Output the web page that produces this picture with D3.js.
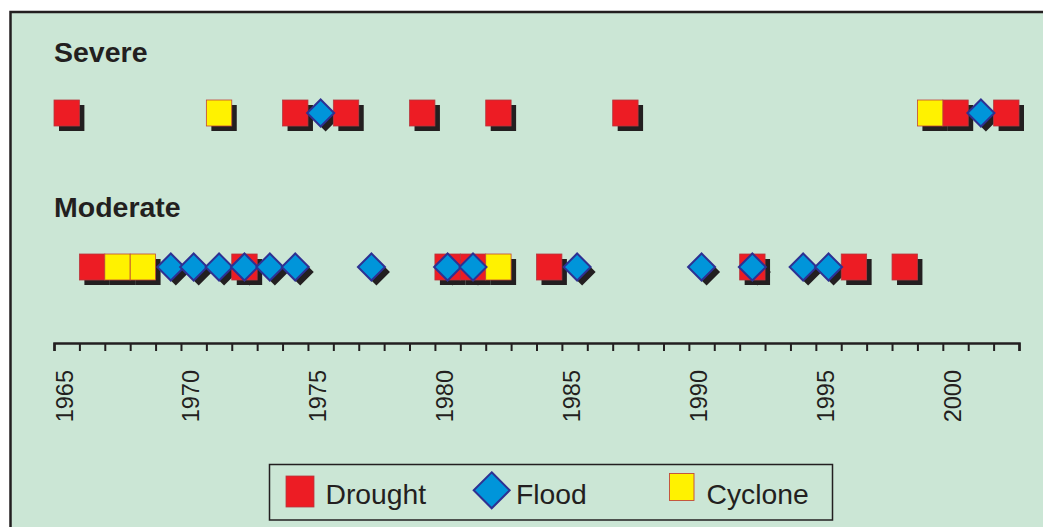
<!DOCTYPE html>
<html>
<head>
<meta charset="utf-8">
<script src="https://cdn.jsdelivr.net/npm/d3@7"></script>
<style>
  html, body { margin: 0; padding: 0; background: #ffffff; }
  svg { display: block; font-family: "Liberation Sans", Arial, sans-serif; }
</style>
</head>
<body>
<svg id="chart" width="1043" height="527"></svg>
<script>
// ---- data ----
const rows = ["Severe", "Moderate"];
const severeDrought = [1965, 1974, 1976, 1979, 1982, 1987, 2000, 2002];
const severeFlood = [1975, 2001];
const severeCyclone = [1971, 1999];
const moderateDrought = [1966, 1972, 1980, 1981, 1984, 1992, 1996, 1998];
const moderateFlood = [1969.1, 1970, 1971, 1972, 1973, 1974, 1977, 1980, 1981, 1985.1, 1990, 1992, 1994, 1995];
const moderateCyclone = [1967, 1968, 1982];
const yearDomain = [1965, 2003];
const tickYears = d3.range(1965, 2004);
const legendItems = ["Drought", "Flood", "Cyclone"];

// ---- styles ----
const BG = "#cbe6d5";
const INK = "#231f20";
const RED = "#ed1c24";
const BLUE = "#0095da";
const BLUE_STROKE = "#2e3192";
const YELLOW = "#fff200";

const svg = d3.select("#chart");

// frame
svg.append("rect")
  .attr("x", 10.5).attr("y", 12).attr("width", 1060).attr("height", 540)
  .attr("fill", BG).attr("stroke", INK).attr("stroke-width", 2.5);

const x = d3.scaleLinear().domain(yearDomain).range([54, 1019]);
const band = x(1966) - x(1965);
const y = d3.scalePoint().domain(rows).range([113, 267]);
const labelY = d3.scalePoint().domain(rows).range([62, 217]);

// row labels
svg.selectAll("text.row").data(rows).join("text")
  .attr("class", "row")
  .attr("x", 54).attr("y", d => labelY(d))
  .attr("font-size", 28.5).attr("font-weight", "bold").attr("fill", INK)
  .text(d => d);

const sqH = 26;
const diaR = 13.5;
const sh = { dx: 5, dy: 5 };

const squares = [];
severeDrought.forEach(v => squares.push({ row: "Severe", year: v, fill: RED, stroke: "#b5393f" }));
severeCyclone.forEach(v => squares.push({ row: "Severe", year: v, fill: YELLOW, stroke: "#c1473a" }));
moderateDrought.forEach(v => squares.push({ row: "Moderate", year: v, fill: RED, stroke: "#b5393f" }));
moderateCyclone.forEach(v => squares.push({ row: "Moderate", year: v, fill: YELLOW, stroke: "#c1473a" }));
const diamonds = [];
severeFlood.forEach(v => diamonds.push({ row: "Severe", year: v }));
moderateFlood.forEach(v => diamonds.push({ row: "Moderate", year: v }));

const diaPath = (cx, cy, rx, ry) => `M${cx},${cy - ry}L${cx + rx},${cy}L${cx},${cy + ry}L${cx - rx},${cy}Z`;

// shadows
const gShadow = svg.append("g");
gShadow.selectAll("rect").data(squares).join("rect")
  .attr("x", d => x(d.year) + sh.dx).attr("y", d => y(d.row) - sqH / 2 + sh.dy)
  .attr("width", band).attr("height", sqH).attr("fill", INK);
gShadow.selectAll("path").data(diamonds).join("path")
  .attr("d", d => diaPath(x(d.year + 0.5) + sh.dx, y(d.row) + sh.dy, diaR, diaR))
  .attr("fill", INK);

// squares
svg.append("g").selectAll("rect").data(squares).join("rect")
  .attr("x", d => x(d.year)).attr("y", d => y(d.row) - sqH / 2)
  .attr("width", band).attr("height", sqH)
  .attr("fill", d => d.fill).attr("stroke", d => d.stroke).attr("stroke-width", 0.8);

// diamonds
svg.append("g").selectAll("path").data(diamonds).join("path")
  .attr("d", d => diaPath(x(d.year + 0.5), y(d.row), diaR, diaR))
  .attr("fill", BLUE).attr("stroke", BLUE_STROKE).attr("stroke-width", 2);

// axis
const axis = d3.axisBottom(x)
  .tickValues(tickYears)
  .tickSize(8).tickSizeOuter(8)
  .tickFormat(d => d % 5 === 0 ? String(d) : "");
const gAxis = svg.append("g").attr("transform", "translate(0,343)").call(axis);
gAxis.select(".domain").attr("stroke", INK).attr("stroke-width", 2.5);
gAxis.selectAll(".tick line").attr("stroke", INK).attr("stroke-width", 2);
gAxis.selectAll(".tick text")
  .attr("x", 0).attr("y", 0).attr("dy", 0)
  .attr("transform", "translate(18,27) rotate(-90)")
  .attr("text-anchor", "end")
  .attr("font-size", 23.5)
  .attr("font-family", "\"Liberation Sans\", Arial, sans-serif")
  .attr("fill", INK);

// legend
const lg = svg.append("g");
lg.append("rect").attr("x", 269.5).attr("y", 464.5).attr("width", 563).attr("height", 55.5)
  .attr("fill", BG).attr("stroke", INK).attr("stroke-width", 1.5);
lg.append("rect").attr("x", 286).attr("y", 476).attr("width", 28).attr("height", 31)
  .attr("fill", RED).attr("stroke", "#b5393f").attr("stroke-width", 0.8);
lg.append("path").attr("d", diaPath(491.7, 490.3, 18, 18))
  .attr("fill", BLUE).attr("stroke", BLUE_STROKE).attr("stroke-width", 2);
lg.append("rect").attr("x", 669.5).attr("y", 473.5).attr("width", 24.5).attr("height", 27)
  .attr("fill", YELLOW).attr("stroke", "#c1473a").attr("stroke-width", 0.9);
const legendX = d3.scaleOrdinal().domain(legendItems).range([325.5, 516, 706.5]);
lg.selectAll("text").data(legendItems).join("text")
  .attr("x", d => legendX(d)).attr("y", 503.5)
  .attr("font-size", 28.3).attr("fill", INK)
  .text(d => d);
</script>
</body>
</html>
